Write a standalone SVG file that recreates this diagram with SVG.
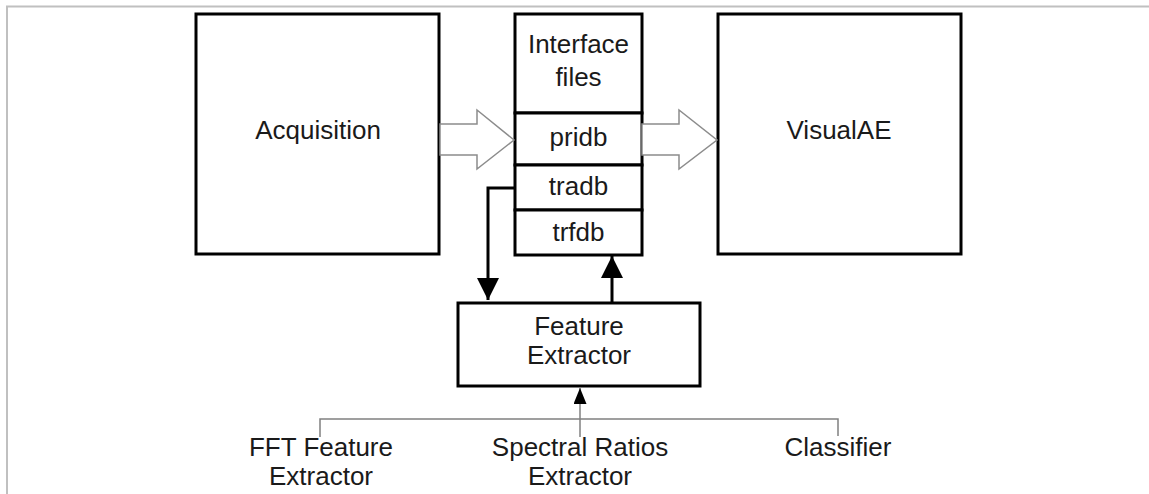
<svg xmlns="http://www.w3.org/2000/svg" width="1149" height="494" viewBox="0 0 1149 494">
<style>
.box{fill:#fff;stroke:#000;stroke-width:3}
.t{font-family:"Liberation Sans",Arial,sans-serif;font-size:26px;fill:#1a1a1a;text-anchor:middle}
.hollow{fill:#fff;stroke:#8c8c8c;stroke-width:1.5}
.thick{fill:none;stroke:#000;stroke-width:3}
.thin{fill:none;stroke:#808080;stroke-width:1.5}
</style>
<defs>
<marker id="big" markerUnits="userSpaceOnUse" markerWidth="22" markerHeight="24" refX="22" refY="11" orient="auto">
<path d="M0,0 L22,11 L0,22 Z" fill="#000"/>
</marker>
<marker id="small" markerUnits="userSpaceOnUse" markerWidth="16" markerHeight="14" refX="16" refY="6.5" orient="auto">
<path d="M0,0 L16,6.5 L0,13 Z" fill="#000"/>
</marker>
</defs>
<rect width="1149" height="494" fill="#fff"/>
<path d="M7,494 V6.5 H1149" fill="none" stroke="#c0c0c0" stroke-width="2"/>
<g id="acquisition">
<rect class="box" x="196" y="14" width="243" height="240"/>
<text class="t" x="318" y="139">Acquisition</text>
</g>
<g id="interface">
<rect class="box" x="515" y="14" width="127" height="99"/>
<text class="t" x="578.5" y="53">Interface</text>
<text class="t" x="578.5" y="86">files</text>
</g>
<g id="pridb">
<rect class="box" x="515" y="113" width="127" height="52"/>
<text class="t" x="578.5" y="146">pridb</text>
</g>
<g id="tradb">
<rect class="box" x="515" y="165" width="127" height="45"/>
<text class="t" x="578.5" y="195">tradb</text>
</g>
<g id="trfdb">
<rect class="box" x="515" y="210" width="127" height="45"/>
<text class="t" x="578.5" y="241">trfdb</text>
</g>
<g id="visualae">
<rect class="box" x="718" y="14" width="243" height="240"/>
<text class="t" x="839" y="139">VisualAE</text>
</g>
<g id="feature-extractor">
<rect class="box" x="458" y="303" width="242" height="83"/>
<text class="t" x="579" y="335">Feature</text>
<text class="t" x="579" y="364">Extractor</text>
</g>
<g id="fft">
<text class="t" x="321" y="456">FFT Feature</text>
<text class="t" x="321" y="485">Extractor</text>
</g>
<g id="spectral">
<text class="t" x="580" y="456">Spectral Ratios</text>
<text class="t" x="580" y="485">Extractor</text>
</g>
<g id="classifier">
<text class="t" x="838" y="456">Classifier</text>
</g>
<g id="connectors">
<polygon class="hollow" points="440,124 477,124 477,110 514,140 477,169 477,155 440,155"/>
<polygon class="hollow" points="642,124 679,124 679,110 717,140 679,169 679,155 642,155"/>
<path class="thick" d="M515,188 H488 V300" marker-end="url(#big)"/>
<path class="thick" d="M612,302 V256" marker-end="url(#big)"/>
<path class="thin" d="M320,437 V419 H838 V436"/>
<path class="thin" d="M580,437 V388" marker-end="url(#small)"/>
</g>
</svg>
